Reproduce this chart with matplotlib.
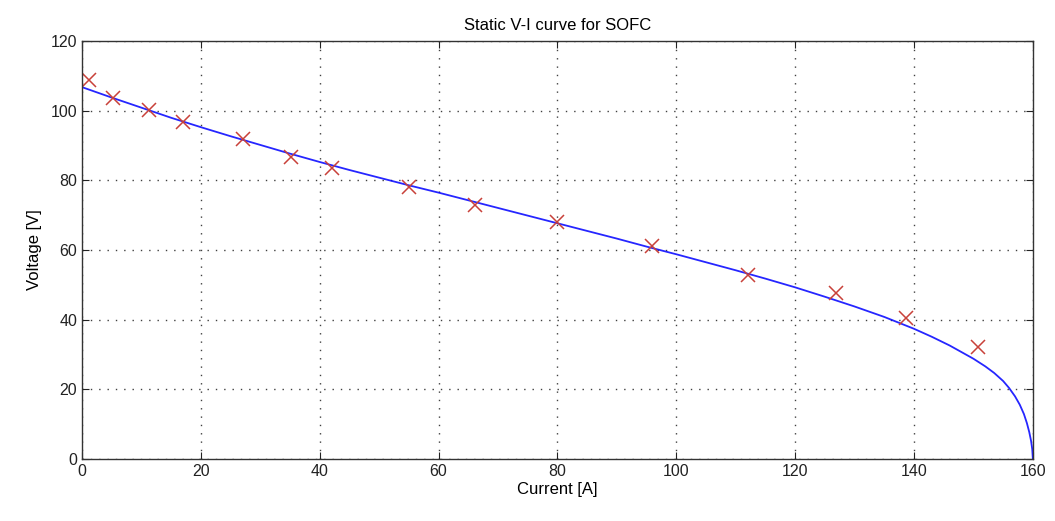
import numpy as np
import matplotlib
matplotlib.use('Agg')
import matplotlib.pyplot as plt

plt.rcParams['font.family'] = ['Liberation Sans', 'DejaVu Sans']

# measured points (red crosses)
meas_i = [1.2, 5.2, 11.3, 17.0, 27.1, 35.2, 42.1, 55.1, 66.2, 80.0, 96.0, 112.1, 126.8, 138.7, 150.7]
meas_v = [108.8, 103.6, 100.2, 96.8, 91.9, 86.7, 83.5, 78.1, 72.9, 68.0, 61.2, 52.8, 47.7, 40.5, 32.2]

# model curve
curve_i = [0, 5, 10, 15, 20, 25, 30, 35, 40, 45, 50, 55, 60, 65, 70, 75, 80, 85, 90, 95,
           100, 105, 110, 115, 120, 125, 130, 135, 140, 143, 146, 148, 150, 152, 153.5,
           155, 156, 157, 157.8, 158.5, 159, 159.4, 159.7, 159.9, 160]
curve_v = [106.8, 103.8, 100.9, 98.0, 95.3, 92.7, 90.2, 87.7, 85.3, 83.0, 80.8, 78.6, 76.5, 74.3, 72.1, 69.9,
           67.7, 65.5, 63.3, 61.0, 58.8, 56.5, 54.2, 51.8, 49.3, 46.6, 43.8, 40.8, 37.4, 35.1, 32.6, 30.7,
           28.8, 26.6, 24.7, 22.4, 20.4, 18.0, 15.6, 12.9, 10.3, 7.7, 5.2, 2.8, 0.0]

fig = plt.figure(figsize=(10.55, 5.21), dpi=100)
ax = fig.add_axes([0.0777, 0.119, 0.9013, 0.802])

ax.plot(curve_i, curve_v, color='#0000ff', lw=1.3, alpha=0.85)
ax.plot(meas_i, meas_v, 'x', color='#c8413a', ms=10, mew=1.1)

ax.set_xlim(0, 160)
ax.set_ylim(0, 120)
ax.set_xticks(np.arange(0, 161, 20))
ax.set_yticks(np.arange(0, 121, 20))
ax.grid(True, color='black', linestyle=(0, (1, 5)), lw=1.0, alpha=0.75)
ax.tick_params(direction='in', length=5, top=True, right=True, labelsize=11.5, colors='#222222')
for s in ax.spines.values():
    s.set_color('#333333')
    s.set_linewidth(1.0)

ax.set_title('Static V-I curve for SOFC', fontsize=12, pad=8)
ax.set_xlabel('Current [A]', fontsize=12, labelpad=2)
ax.set_ylabel('Voltage [V]', fontsize=12, labelpad=6)

fig.savefig('out.png', dpi=100)
